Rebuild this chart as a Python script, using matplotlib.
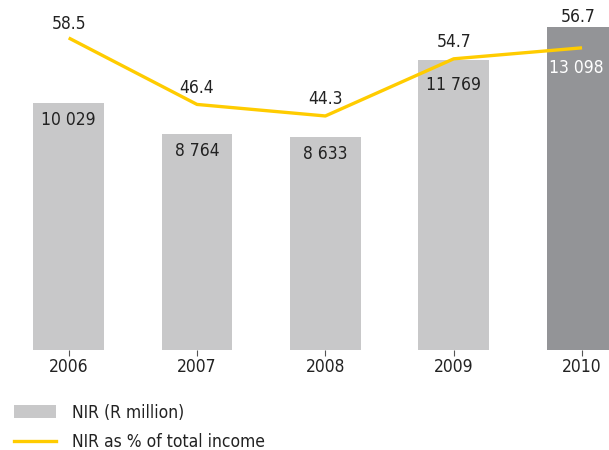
import matplotlib
matplotlib.use("Agg")
import matplotlib.pyplot as plt
from matplotlib.patches import Patch
from matplotlib.lines import Line2D

anos = ["2006", "2007", "2008", "2009", "2010"]
nir = [10029, 8764, 8633, 11769, 13098]
nir_rotulos = ["10 029", "8 764", "8 633", "11 769", "13 098"]
pct_receita = [58.5, 46.4, 44.3, 54.7, 56.7]

cinza = "#c8c8c9"
cinza_escuro = "#939497"
amarelo = "#ffcc00"
texto = "#222222"

plt.rcParams["font.family"] = ["DejaVu Sans"]
plt.rcParams["font.stretch"] = "condensed"

fig = plt.figure(figsize=(6.09, 4.5), dpi=100)
ax = fig.add_axes([0, 0.222, 1, 0.756])

x = list(range(len(anos)))
cores = [cinza] * (len(anos) - 1) + [cinza_escuro]
ax.bar(x, nir, width=0.55, color=cores)

# rotulos das barras; os dois ultimos descem para fugir da linha
desloc_barra = [(0, -12), (0, -12), (0, -12), (0, -18), (-4, -29)]
for i, (v, r) in enumerate(zip(nir, nir_rotulos)):
    cor = "white" if i == len(anos) - 1 else texto
    ax.annotate(r, (i, v), xytext=desloc_barra[i], textcoords="offset points",
                ha="center", va="center", fontsize=12.5, color=cor)

ax.set_xlim(-0.535, 4.21)
ax.set_ylim(0, 13804)
ax.set_xticks(x)
ax.set_xticklabels(anos, fontsize=12.5, color=texto)
ax.tick_params(axis="x", length=4, width=0.8, color="#555555", pad=2)
ax.set_yticks([])
for s in ax.spines.values():
    s.set_visible(False)

ax2 = ax.twinx()
ax2.plot(x, pct_receita, color=amarelo, linewidth=2.4, solid_capstyle="butt")
ax2.set_ylim(1.7, 63.6)
ax2.set_yticks([])
for s in ax2.spines.values():
    s.set_visible(False)

desloc_linha = [(0, 10), (0, 12), (0, 12), (0, 12), (-3, 22)]
for i, v in enumerate(pct_receita):
    ax2.annotate(f"{v:.1f}", (i, v), xytext=desloc_linha[i], textcoords="offset points",
                 ha="center", va="center", fontsize=12.5, color=texto)

handles = [Patch(facecolor=cinza, edgecolor="none"),
           Line2D([0], [0], color=amarelo, linewidth=2.4)]
fig.legend(handles, ["NIR (R million)", "NIR as % of total income"],
           loc="upper left", bbox_to_anchor=(0.012, 0.118), frameon=False,
           fontsize=12.5, handlelength=2.4, handleheight=0.8,
           labelspacing=0.65, handletextpad=0.9, borderaxespad=0,
           labelcolor=texto)

fig.savefig("out.png", dpi=100)
